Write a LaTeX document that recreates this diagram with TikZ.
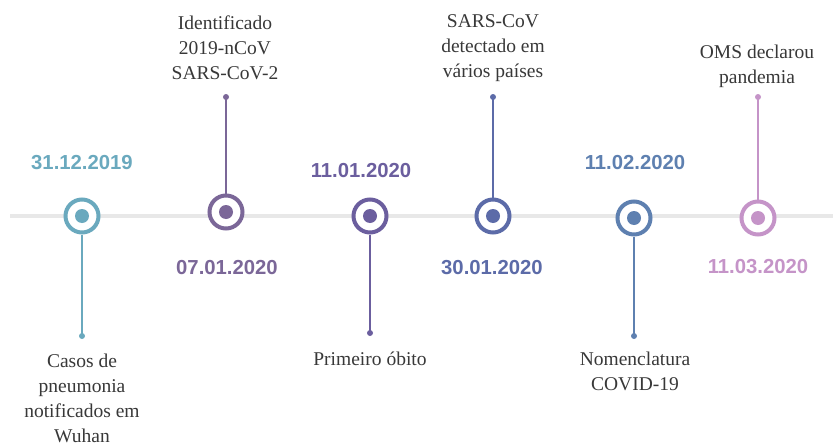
\documentclass[tikz,border=0pt]{standalone}
\usepackage{fontspec}
\setmainfont{Liberation Serif}
\newfontfamily\datefont{Liberation Sans}
\definecolor{cA}{HTML}{6AA9BE}
\definecolor{cB}{HTML}{7B6798}
\definecolor{cC}{HTML}{6B5E9E}
\definecolor{cD}{HTML}{5C6BA8}
\definecolor{cE}{HTML}{5E80B0}
\definecolor{cF}{HTML}{C594C8}
\definecolor{axis}{HTML}{E8E8E8}
\definecolor{txt}{HTML}{383838}
\tikzset{
  event/.style={circle,draw=#1,line width=4pt,fill=white,minimum size=33pt,inner sep=0pt},
  core/.style={circle,fill=#1,minimum size=14pt,inner sep=0pt},
  tip/.style={circle,fill=#1,minimum size=6pt,inner sep=0pt},
  stem/.style={draw=#1,line width=1.5pt},
  date/.style={text=#1,font=\datefont\bfseries\fontsize{20.3}{22}\selectfont,inner sep=0pt},
  desc/.style={text=txt,font=\fontsize{19.5}{25}\selectfont,align=center,inner sep=0pt},
}
\begin{document}
\begin{tikzpicture}[x=1pt,y=-1pt]
\useasboundingbox (0,0) rectangle (833,447);
% timeline axis
\coordinate (axL) at (10,216);
\coordinate (axR) at (833,216);
\draw[axis,line width=4.5pt] (axL) -- (axR);

% stem end points
\coordinate (tA) at (82,336);
\coordinate (tB) at (226,97);
\coordinate (tC) at (370,333);
\coordinate (tD) at (493,97);
\coordinate (tE) at (634,336);
\coordinate (tF) at (758,97);

% event markers
\node[event=cA] (eA) at (82,216) {};
\node[event=cB] (eB) at (226,212) {};
\node[event=cC] (eC) at (370,216) {};
\node[event=cD] (eD) at (493,216) {};
\node[event=cE] (eE) at (634,218) {};
\node[event=cF] (eF) at (758,218) {};

% stems
\draw[stem=cA] (eA.south) -- (tA);
\draw[stem=cB] (eB.north) -- (tB);
\draw[stem=cC] (eC.south) -- (tC);
\draw[stem=cD] (eD.north) -- (tD);
\draw[stem=cE] (eE.south) -- (tE);
\draw[stem=cF] (eF.north) -- (tF);

\node[tip=cA] (dA) at (tA) {};
\node[tip=cB] (dB) at (tB) {};
\node[tip=cC] (dC) at (tC) {};
\node[tip=cD] (dD) at (tD) {};
\node[tip=cE] (dE) at (tE) {};
\node[tip=cF] (dF) at (tF) {};

% inner dots
\node[core=cA] (iA) at (eA) {};
\node[core=cB] (iB) at (eB) {};
\node[core=cC] (iC) at (eC) {};
\node[core=cD] (iD) at (eD) {};
\node[core=cE] (iE) at (eE) {};
\node[core=cF] (iF) at (eF) {};

% dates
\node[date=cA] (yA) at (82,163) {31.12.2019};
\node[date=cB] (yB) at (227,268) {07.01.2020};
\node[date=cC] (yC) at (361,171) {11.01.2020};
\node[date=cD] (yD) at (492,268) {30.01.2020};
\node[date=cE] (yE) at (635,163) {11.02.2020};
\node[date=cF] (yF) at (758,267) {11.03.2020};

% descriptions
\node[desc] (lA) at (82,398) {Casos de\\pneumonia\\notificados em\\Wuhan};
\node[desc] (lB) at (225,48) {Identificado\\2019-nCoV\\SARS-CoV-2};
\node[desc] (lC) at (370,359) {Primeiro óbito};
\node[desc] (lD) at (493,48) {SARS-CoV\\detectado em\\vários países};
\node[desc] (lE) at (635,371) {Nomenclatura\\COVID-19};
\node[desc] (lF) at (757,66) {OMS declarou\\pandemia};
\end{tikzpicture}
\end{document}
